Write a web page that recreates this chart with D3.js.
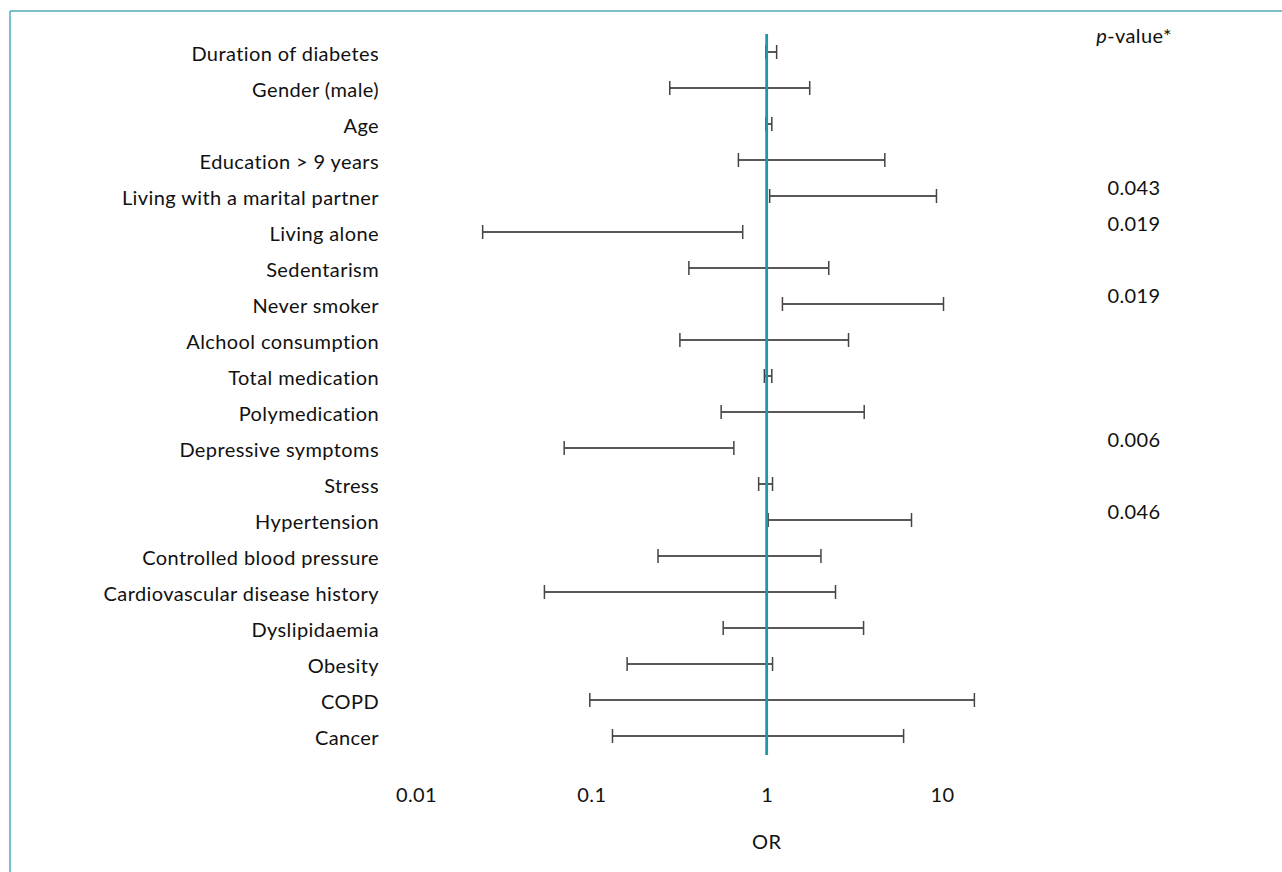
<!DOCTYPE html>
<html>
<head>
<meta charset="utf-8">
<script src="https://cdn.jsdelivr.net/npm/d3@7"></script>
<style>
  html, body { margin: 0; padding: 0; background: #fff; }
  svg { display: block; }
  text { font-family: Lato, "Open Sans", sans-serif; fill: #111; letter-spacing: 0.4px; }
</style>
</head>
<body>
<svg id="chart" width="1282" height="872"></svg>
<script>
const categories = [
  "Duration of diabetes", "Gender (male)", "Age", "Education > 9 years",
  "Living with a marital partner", "Living alone", "Sedentarism", "Never smoker",
  "Alchool consumption", "Total medication", "Polymedication", "Depressive symptoms",
  "Stress", "Hypertension", "Controlled blood pressure", "Cardiovascular disease history",
  "Dyslipidaemia", "Obesity", "COPD", "Cancer"
];
const ciLower = [0.99, 0.28, 0.99, 0.69, 1.04, 0.024, 0.36, 1.23, 0.32, 0.97, 0.55, 0.070, 0.90, 1.02, 0.24, 0.054, 0.565, 0.16, 0.098, 0.132];
const ciUpper = [1.14, 1.76, 1.07, 4.72, 9.3, 0.73, 2.26, 10.2, 2.93, 1.07, 3.6, 0.65, 1.08, 6.7, 2.04, 2.47, 3.57, 1.08, 15.3, 6.04];
const pValues = ["", "", "", "", "0.043", "0.019", "", "0.019", "", "", "", "0.006", "", "0.046", "", "", "", "", "", ""];
const tickValues = [0.01, 0.1, 1, 10];
const tickLabels = ["0.01", "0.1", "1", "10"];

const svg = d3.select("#chart");
const teal = "#1f97a8";
const fs = "20px";

// frame
svg.append("line").attr("x1", 10).attr("x2", 1282).attr("y1", 11).attr("y2", 11)
  .attr("stroke", "#4fabb8").attr("stroke-width", 1.5);
svg.append("line").attr("x1", 10).attr("x2", 10).attr("y1", 11).attr("y2", 872)
  .attr("stroke", "#4fabb8").attr("stroke-width", 1.5);

const x = d3.scaleLog().domain([0.01, 10]).range([416, 942]);
const y = d3.scalePoint().domain(categories).range([52, 736]);

const rows = categories.map((c, i) => ({ c, lo: ciLower[i], hi: ciUpper[i], p: pValues[i] }));

// category labels
svg.append("g").selectAll("text").data(rows).join("text")
  .attr("x", 379).attr("y", d => y(d.c) + 4)
  .attr("text-anchor", "end").attr("dominant-baseline", "middle")
  .style("font-size", fs)
  .text(d => d.c);

// error bars
const g = svg.append("g");
const cap = 7;
g.selectAll("line.bar").data(rows).join("line").attr("class", "bar")
  .attr("x1", d => x(d.lo)).attr("x2", d => x(d.hi))
  .attr("y1", d => y(d.c)).attr("y2", d => y(d.c))
  .attr("stroke", "#222").attr("stroke-width", 1.5);
g.selectAll("line.capl").data(rows).join("line").attr("class", "capl")
  .attr("x1", d => x(d.lo)).attr("x2", d => x(d.lo))
  .attr("y1", d => y(d.c) - cap).attr("y2", d => y(d.c) + cap)
  .attr("stroke", "#444").attr("stroke-width", 1.5);
g.selectAll("line.caph").data(rows).join("line").attr("class", "caph")
  .attr("x1", d => x(d.hi)).attr("x2", d => x(d.hi))
  .attr("y1", d => y(d.c) - cap).attr("y2", d => y(d.c) + cap)
  .attr("stroke", "#444").attr("stroke-width", 1.5);

// reference line at OR = 1
svg.append("line").attr("x1", x(1)).attr("x2", x(1)).attr("y1", 34).attr("y2", 755)
  .attr("stroke", teal).attr("stroke-width", 2.8);

// p-values
svg.append("text").attr("x", 1134).attr("y", 38)
  .attr("text-anchor", "middle").attr("dominant-baseline", "middle")
  .style("font-size", fs)
  .call(t => {
    t.append("tspan").style("font-style", "italic").text("p");
    t.append("tspan").text("-value*");
  });
svg.append("g").selectAll("text").data(rows.filter(d => d.p)).join("text")
  .attr("x", 1134).attr("y", d => y(d.c) - 6)
  .attr("text-anchor", "middle").attr("dominant-baseline", "middle")
  .style("font-size", fs)
  .text(d => d.p);

// x axis
const axis = d3.axisBottom(x).tickValues(tickValues)
  .tickFormat((d, i) => tickLabels[i]).tickSize(0).tickPadding(0);
const ax = svg.append("g").attr("transform", "translate(0,788)").call(axis);
ax.select(".domain").remove();
ax.selectAll("text").style("font-size", fs).style("font-family", "Lato, sans-serif").attr("fill", "#111");

svg.append("text").attr("x", x(1)).attr("y", 844)
  .attr("text-anchor", "middle").attr("dominant-baseline", "middle")
  .style("font-size", fs).text("OR");
</script>
</body>
</html>
